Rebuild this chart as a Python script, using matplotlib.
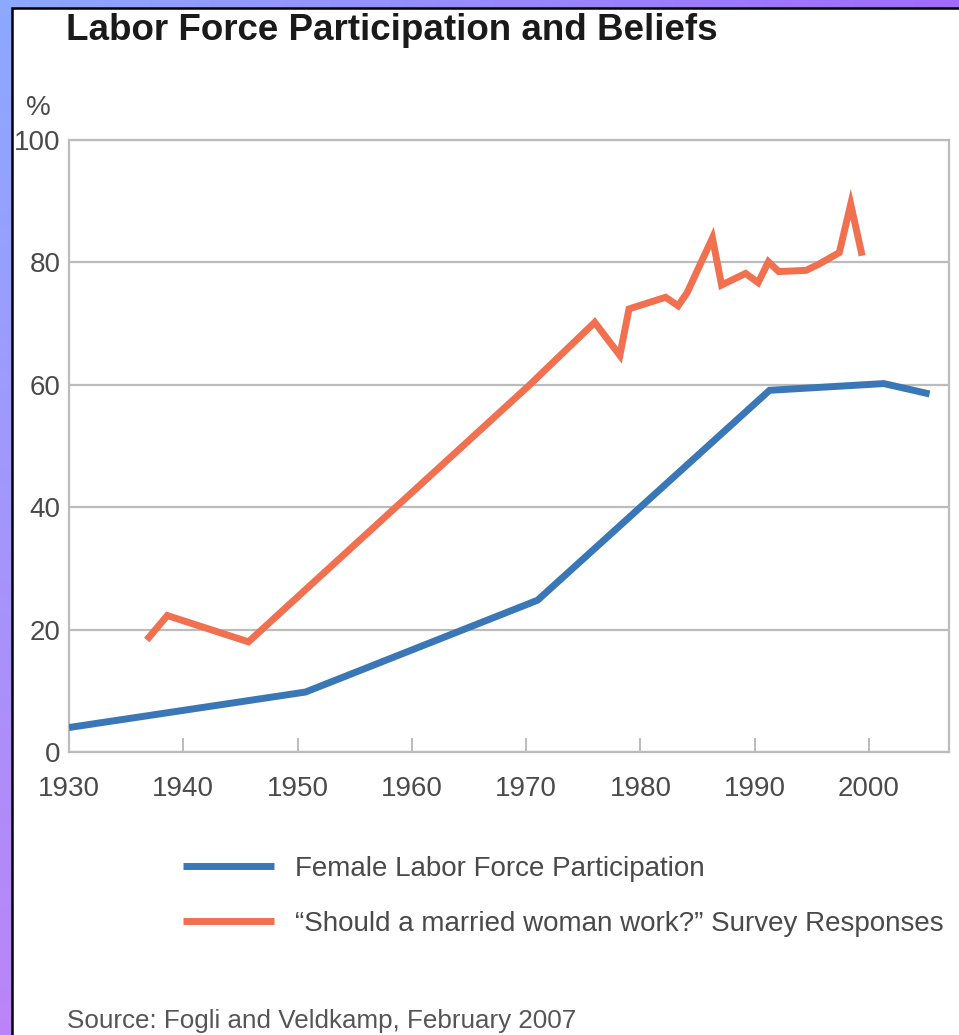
import numpy as np
import matplotlib.pyplot as plt
from matplotlib.patches import Rectangle

# chart values
years_lfp = [1930, 1950.7, 1971, 1991.3, 2001.3, 2005.3]
female_lfp = [4.0, 9.8, 24.8, 59.1, 60.2, 58.5]

years_survey = [1936.8, 1938.6, 1945.7, 1970.2, 1976.0, 1978.2, 1979.0, 1982.2, 1983.3, 1984.1,
                1986.3, 1987.1, 1989.2, 1990.3, 1991.2, 1992.1, 1994.5, 1995.6, 1997.4, 1998.4, 1999.4]
survey_yes = [18.3, 22.3, 18.0, 59.8, 70.2, 64.8, 72.4, 74.3, 72.9, 75.1,
              84.0, 76.3, 78.2, 76.7, 80.1, 78.5, 78.7, 79.7, 81.6, 89.5, 81.1]

x_ticks = [1930, 1940, 1950, 1960, 1970, 1980, 1990, 2000]
y_ticks = [0, 20, 40, 60, 80, 100]
series_names = ["Female Labor Force Participation",
                "\u201cShould a married woman work?\u201d Survey Responses"]

BLUE = "#3a77b6"
ORANGE = "#f0704f"
GRID = "#bcbcbc"
TXT = "#4a4a4a"

plt.rcParams['font.family'] = ['Liberation Sans', 'DejaVu Sans']

W, H = 959, 1035
fig = plt.figure(figsize=(W / 100, H / 100), dpi=100)

# purple/blue gradient frame behind the white panel
bg = fig.add_axes([0, 0, 1, 1], zorder=-10)
u = np.linspace(0, 1, 64)[None, :, None]
v = np.linspace(0, 1, 64)[:, None, None]
tl = np.array([0.55, 0.66, 1.0])
tr = np.array([0.63, 0.42, 0.98])
bl = np.array([0.73, 0.52, 0.97])
br = np.array([0.70, 0.45, 0.95])
grad = tl * (1 - u) * (1 - v) + tr * u * (1 - v) + bl * (1 - u) * v + br * u * v
bg.imshow(grad, aspect='auto', extent=[0, 1, 0, 1], origin='upper')
bg.set_xlim(0, 1)
bg.set_ylim(0, 1)
bg.axis('off')
bg.add_patch(Rectangle((11.5 / W, -0.05), 1.1, 1 - 7.5 / H + 0.05, facecolor='white',
                       edgecolor='black', linewidth=1.8, transform=bg.transAxes))

# main plot area
ax = fig.add_axes([69 / W, 1 - 752 / H, (949 - 69) / W, (752 - 140) / H])
ax.plot(years_lfp, female_lfp, color=BLUE, lw=5, solid_joinstyle='miter', solid_capstyle='butt',
        label=series_names[0], zorder=3)
ax.plot(years_survey, survey_yes, color=ORANGE, lw=5, solid_joinstyle='miter', solid_capstyle='butt',
        label=series_names[1], zorder=3)

ax.set_xlim(1930, 2007)
ax.set_ylim(0, 100)
ax.set_xticks(x_ticks)
ax.set_yticks(y_ticks)
ax.set_xticklabels([str(t) for t in x_ticks])
ax.set_yticklabels([str(t) for t in y_ticks])
ax.yaxis.grid(True, color=GRID, lw=1.6)
ax.set_axisbelow(True)
for s in ax.spines.values():
    s.set_color(GRID)
    s.set_linewidth(1.6)
ax.tick_params(axis='x', direction='in', length=10, width=1.4, color=GRID, pad=17,
               labelsize=20, labelcolor=TXT)
ax.tick_params(axis='y', length=0, pad=6, labelsize=20, labelcolor=TXT)

fig.text(38 / W, 1 - 108 / H, "%", ha='center', va='center', fontsize=20, color=TXT)

fig.text(66 / W, 1 - 39.5 / H, "Labor Force Participation and Beliefs", ha='left', va='baseline',
         fontsize=26.5, fontweight='bold', color='#1a1a1a')

fig.legend(loc='upper left', bbox_to_anchor=(183 / W, 1 - 856 / H), frameon=False,
           borderpad=0, borderaxespad=0, fontsize=20, handlelength=3.27, handletextpad=0.76,
           labelspacing=1.04, labelcolor=TXT)

fig.text(67 / W, 1 - 1028 / H, "Source: Fogli and Veldkamp, February 2007", ha='left',
         va='baseline', fontsize=18.7, color='#555555')

fig.savefig("out.png", dpi=100)
